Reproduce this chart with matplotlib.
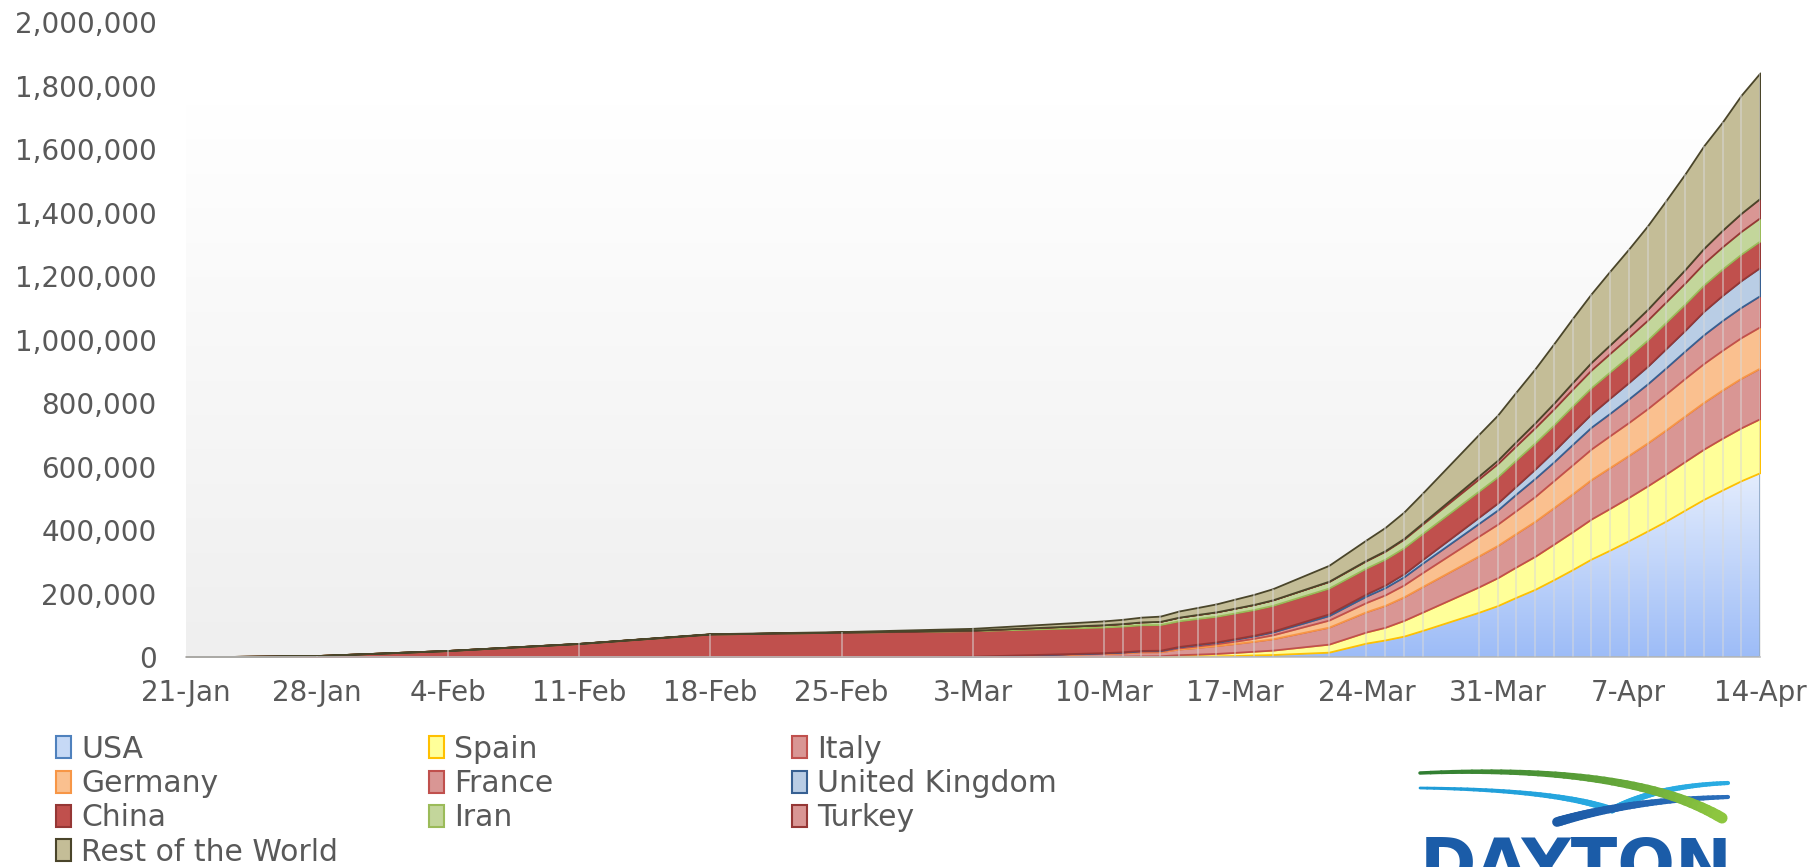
import matplotlib
matplotlib.use("Agg")
import matplotlib.pyplot as plt
import matplotlib.dates as mdates
import numpy as np
import pandas as pd
from matplotlib.collections import LineCollection
from matplotlib.colors import LinearSegmentedColormap, to_rgb
from matplotlib.patches import Patch
from matplotlib.ticker import FuncFormatter

# reporting dates (weekly at first, then almost daily)
dates = pd.to_datetime([
    "2020-01-21", "2020-01-28", "2020-02-04", "2020-02-11", "2020-02-18", "2020-02-25", "2020-03-03",
    "2020-03-10", "2020-03-11", "2020-03-12", "2020-03-13", "2020-03-14", "2020-03-15", "2020-03-16",
    "2020-03-17", "2020-03-18", "2020-03-19", "2020-03-22", "2020-03-24", "2020-03-25", "2020-03-26",
    "2020-03-27", "2020-03-30", "2020-03-31", "2020-04-01", "2020-04-02", "2020-04-03", "2020-04-04",
    "2020-04-05", "2020-04-06", "2020-04-07", "2020-04-08", "2020-04-09", "2020-04-10", "2020-04-11",
    "2020-04-12", "2020-04-13", "2020-04-14"])

usa = [1, 5, 11, 13, 15, 53, 103,
       755, 1000, 1300, 1660, 2180, 2730, 3500, 4630, 6420, 7790,
       15200, 43850, 53740, 65780, 83840,
       140900, 161830, 188170, 213240, 243620, 275370, 308650, 336800,
       366320, 397120, 428650, 462780, 496540, 526400, 555310, 580620]
spain = [0, 0, 0, 0, 0, 2, 120,
         1073, 1695, 2277, 2277, 5232, 6391, 7798, 9942, 11748, 13910,
         25374, 35136, 39885, 49515, 57786,
         80110, 87956, 95923, 104118, 112065, 119199, 126168, 131646,
         136675, 141942, 148220, 153222, 158273, 163027, 166831, 170099]
italy = [0, 0, 2, 3, 3, 229, 2036,
         9172, 10149, 12462, 12462, 17660, 21157, 24747, 27980, 31506, 35713,
         53578, 63927, 69176, 74386, 80589,
         97689, 101739, 105792, 110574, 115242, 119827, 124632, 128948,
         132547, 135586, 139422, 143626, 147577, 152271, 156363, 159516]
germany = [0, 1, 12, 16, 16, 16, 159,
           1176, 1457, 1908, 2078, 3675, 4585, 5795, 7272, 9257, 12327,
           22213, 29056, 32986, 37323, 43938,
           62095, 66885, 71808, 77872, 84794, 91159, 96092, 100123,
           103374, 107663, 113296, 118181, 122171, 124908, 127854, 130072]
france = [0, 4, 6, 11, 12, 12, 191,
          1209, 1784, 2284, 2284, 3667, 4480, 4513, 6650, 7652, 9043,
          14282, 20123, 22622, 25600, 29551,
          40174, 44550, 52128, 56989, 59105, 64338, 68605, 70478,
          74390, 78167, 82048, 86334, 90676, 93790, 95403, 98076]
uk = [0, 0, 2, 8, 9, 13, 40,
      321, 383, 460, 590, 798, 1140, 1140, 1543, 1950, 2626,
      5067, 6650, 8077, 9529, 11658,
      19522, 22141, 25150, 29474, 33718, 38168, 41903, 47806,
      51608, 55242, 60733, 65077, 73758, 78991, 84279, 88621]
china = [278, 4515, 20438, 42638, 72436, 77780, 80174,
         80778, 80793, 80813, 80824, 80844, 80860, 80881, 80894, 80928, 81150,
         81500, 81750, 81900, 82000, 82100,
         82342, 82390, 82438, 82470, 82505, 82530, 82555, 82603,
         82643, 82694, 82737, 82817, 82900, 83010, 83110, 83306]
iran = [0, 0, 0, 0, 0, 61, 1501,
        7161, 8042, 9000, 10075, 11364, 12729, 13938, 14991, 16169, 17361,
        20610, 23049, 24811, 27017, 29406,
        38309, 41495, 44605, 47593, 50468, 53183, 55743, 58226,
        60500, 62589, 64586, 66220, 68192, 70029, 71686, 73303]
turkey = [0, 0, 0, 0, 0, 0, 0,
          0, 0, 1, 1, 5, 5, 18, 47, 98, 191,
          947, 1529, 1872, 2433, 3629,
          9217, 10827, 13531, 15679, 18135, 20921, 23934, 27069,
          30217, 34109, 38226, 42282, 47029, 52167, 56956, 61049]
rest = [10, 60, 170, 380, 850, 1900, 6000,
        12100, 13400, 15000, 16500, 19500, 22000, 25000, 28500, 31500, 35000,
        50000, 64000, 73000, 83000, 94000,
        131000, 142000, 156000, 170000, 187000, 202000, 216000, 232000,
        247000, 263000, 281000, 301000, 323000, 341000, 372000, 395000]

names = ["USA", "Spain", "Italy", "Germany", "France", "United Kingdom",
         "China", "Iran", "Turkey", "Rest of the World"]
series = [usa, spain, italy, germany, france, uk, china, iran, turkey, rest]
fills = ["#c6d9f6", "#ffff99", "#d99694", "#fac08f", "#d99694", "#b9cde5",
         "#c0504d", "#c3d69b", "#d99694", "#c4bd97"]
edges = ["#4f81bd", "#ffc000", "#c0504d", "#f79646", "#c0504d", "#376092",
         "#953735", "#9bbb59", "#953735", "#4a452a"]

TXT = "#595959"
plt.rcParams["font.family"] = ["DejaVu Sans"]

fig = plt.figure(figsize=(18.19, 8.67), dpi=100)
ax = fig.add_axes([185.6 / 1819, 210 / 867, (1760 - 185.6) / 1819, 635 / 867])

x = mdates.date2num(dates)
cum = np.cumsum(np.array(series, dtype=float), axis=0)
lower = np.vstack([np.zeros(len(x)), cum[:-1]])

# plot-area background, light grey at the bottom fading to white
grad = np.linspace(0, 1, 256).reshape(-1, 1)
bg = LinearSegmentedColormap.from_list("bg", ["#efefef", "#ffffff"])
ax.imshow(grad, cmap=bg, origin="lower", extent=[x[0], x[-1], 0, 1.74e6],
          aspect="auto", zorder=0)

for i in range(len(series)):
    if i == 0:
        poly = ax.fill_between(x, lower[i], cum[i], facecolor="none",
                               edgecolor=edges[i], linewidth=1.3, zorder=1)
        ucm = LinearSegmentedColormap.from_list("usa", ["#9dbcf7", "#e4edfd"])
        im = ax.imshow(grad, cmap=ucm, origin="lower",
                       extent=[x[0], x[-1], 0, cum[0].max()], aspect="auto", zorder=0.9)
        im.set_clip_path(poly.get_paths()[0], transform=ax.transData)
    else:
        ax.fill_between(x, lower[i], cum[i], facecolor=fills[i],
                        edgecolor=edges[i], linewidth=1.3, zorder=1)

# faint vertical lines at each reporting date
ax.vlines(x, 0, cum[-1], colors="#d9d9d9", alpha=0.5, linewidth=1.4, zorder=1.5)

ax.set_xlim(x[0], x[-1])
ax.set_ylim(0, 2000000)
ax.set_yticks(np.arange(0, 2000001, 200000))
ax.yaxis.set_major_formatter(FuncFormatter(lambda v, p: f"{int(v):,}"))
ax.set_xticks(mdates.date2num(pd.date_range("2020-01-21", "2020-04-14", freq="7D")))
ax.xaxis.set_major_formatter(mdates.DateFormatter("%-d-%b"))
ax.tick_params(axis="y", length=0, labelsize=20, labelcolor=TXT, pad=21)
ax.tick_params(axis="x", length=0, labelsize=20, labelcolor=TXT, pad=16)
for s in ["left", "top", "right"]:
    ax.spines[s].set_visible(False)
ax.spines["bottom"].set_color("#bfbfbf")
ax.spines["bottom"].set_linewidth(1.2)
ax.patch.set_visible(False)

# legend, three columns laid out row by row
columns = [[0, 3, 6, 9], [1, 4, 7], [2, 5, 8]]
col_x = [56, 429, 792]
for cx, idx in zip(col_x, columns):
    handles = [Patch(facecolor=fills[i], edgecolor=edges[i], linewidth=1.5) for i in idx]
    fig.legend(handles, [names[i] for i in idx], loc="upper left",
               bbox_to_anchor=(cx / 1819, 0.1526), frameon=False, fontsize=21.5,
               handlelength=0.5, handleheight=0.75, handletextpad=0.35,
               labelspacing=0.18, borderpad=0, borderaxespad=0, labelcolor=TXT)


# logo in the bottom right corner
def bez(p0, p1, p2, n=40):
    t = np.linspace(0, 1, n)[:, None]
    return (1 - t) ** 2 * np.array(p0) + 2 * (1 - t) * t * np.array(p1) + t ** 2 * np.array(p2)


def swoosh(lax, pts, w0, w1, c0, c1):
    segs = np.stack([pts[:-1], pts[1:]], axis=1)
    n = len(segs)
    cols = [np.array(to_rgb(c0)) * (1 - f) + np.array(to_rgb(c1)) * f for f in np.linspace(0, 1, n)]
    lax.add_collection(LineCollection(segs, linewidths=np.linspace(w0, w1, n),
                                      colors=cols, capstyle="round"))


lax = fig.add_axes([1400 / 1819, 0, 360 / 1819, 110 / 867])
lax.set_xlim(1400, 1760)
lax.set_ylim(867, 757)
lax.axis("off")
swoosh(lax, bez((1420, 788), (1560, 790), (1612, 810)), 2, 5, "#1e9bd7", "#29abe2")
swoosh(lax, bez((1612, 810), (1655, 786), (1728, 783)), 5, 3, "#29abe2", "#29abe2")
swoosh(lax, bez((1557, 822), (1630, 800), (1728, 797)), 7, 3, "#1c5aa6", "#2a6ebb")
swoosh(lax, bez((1420, 773), (1630, 764), (1722, 818)), 2.5, 8, "#2f7d32", "#8dc63f")
fig.text(1420 / 1819, -20 / 867, "DAYTON", fontsize=49, fontweight="bold",
         color="#1b5ca8", va="baseline", ha="left")

fig.savefig("out.png", dpi=100)
